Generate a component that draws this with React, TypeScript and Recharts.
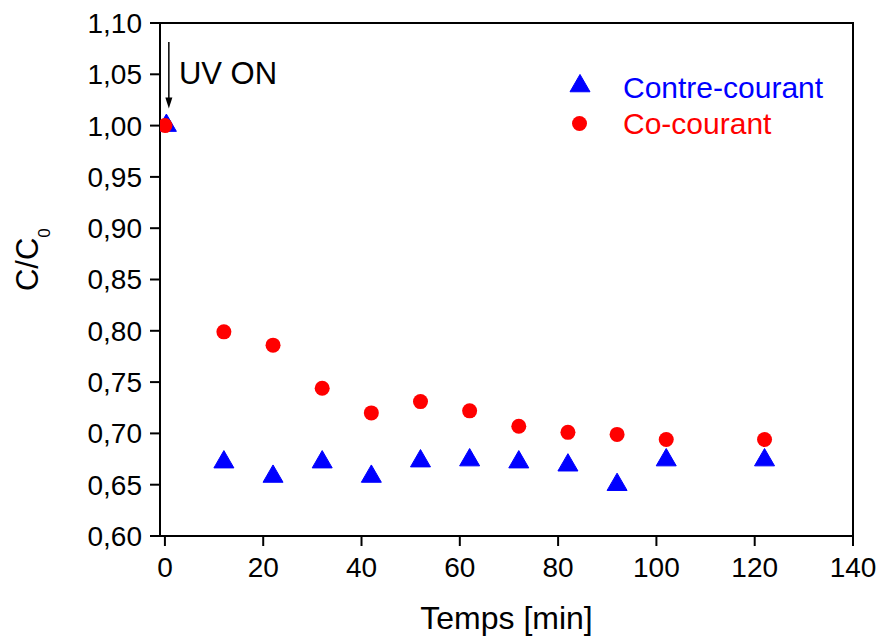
import React from 'react';
import {
  ScatterChart, Scatter, XAxis, YAxis, ReferenceArea, ReferenceLine, ReferenceDot, Label,
} from 'recharts';

const timeContre = [0.3, 12, 22, 32, 42, 52, 62, 72, 82, 92, 102, 122];
const contreValues = [1.0, 0.672, 0.658, 0.672, 0.658, 0.673, 0.674, 0.672, 0.669, 0.65, 0.674, 0.674];
const timeCo = [0, 12, 22, 32, 42, 52, 62, 72, 82, 92, 102, 122];
const coValues = [1.0, 0.799, 0.786, 0.744, 0.72, 0.731, 0.722, 0.707, 0.701, 0.699, 0.694, 0.694];
const xTicks = [0, 20, 40, 60, 80, 100, 120, 140];
const yTicks = [0.6, 0.65, 0.7, 0.75, 0.8, 0.85, 0.9, 0.95, 1.0, 1.05, 1.1];
const seriesNames = ['Contre-courant', 'Co-courant'];
const annotation = { text: 'UV ON', arrowX: 0.8, arrowTop: 1.0815, arrowTip: 1.0166, textX: 2.85, textY: 1.041 };

const BLUE = '#0000FF';
const RED = '#FF0000';
const FONT = '"Liberation Sans", Arial, Helvetica, sans-serif';

const contreData = timeContre.map((x, i) => ({ x, y: contreValues[i] }));
const coData = timeCo.map((x, i) => ({ x, y: coValues[i] }));

const triPoints = (cx: number, cy: number, side: number) => {
  const h = (side * Math.sqrt(3)) / 2;
  return `${cx},${cy - (2 * h) / 3} ${cx - side / 2},${cy + h / 3} ${cx + side / 2},${cy + h / 3}`;
};

const TriangleShape = (props: any) => {
  const { cx, cy } = props;
  if (cx == null || cy == null) return null;
  return <polygon points={triPoints(cx, cy, 20)} fill={BLUE} stroke={BLUE} strokeWidth={1} strokeLinejoin="round" />;
};

const CircleShape = (props: any) => {
  const { cx, cy } = props;
  if (cx == null || cy == null) return null;
  return <circle cx={cx} cy={cy} r={7.5} fill={RED} />;
};

const LegendGroup = () => (
  <g transform="translate(560,60)">
    <polygon points={triPoints(20, 26, 20)} fill={BLUE} stroke={BLUE} strokeWidth={1} strokeLinejoin="round" />
    <text x={63} y={38} fontSize={30} fontFamily={FONT} fill={BLUE}>{seriesNames[0]}</text>
    <circle cx={19.5} cy={63.5} r={7.5} fill={RED} />
    <text x={63} y={74} fontSize={30} fontFamily={FONT} fill={RED}>{seriesNames[1]}</text>
  </g>
);

const ArrowShape = (props: any) => {
  const { x1, y1, x2, y2 } = props;
  if (x1 == null) return null;
  return (
    <g>
      <line x1={x1} y1={y1} x2={x2} y2={y2 - 8} stroke="#000" strokeWidth={1.5} />
      <polygon points={`${x2},${y2} ${x2 - 3.5},${y2 - 11} ${x2 + 3.5},${y2 - 11}`} fill="#000" />
    </g>
  );
};

const TextShape = (props: any) => {
  const { cx, cy } = props;
  if (cx == null) return null;
  return <text x={cx} y={cy} fontSize={31} fontFamily={FONT} fill="#000">{annotation.text}</text>;
};

const tickStyle = { fontSize: 28, fill: '#000', fontFamily: FONT };
const axisLineStyle = { stroke: '#000', strokeWidth: 2 };

export default function App() {
  return (
    <div style={{ position: 'absolute', left: 0, top: 0, width: 880, height: 637, background: '#fff' }}>
      <ScatterChart width={880} height={637} margin={{ top: 23, right: 27, bottom: 0, left: 0 }}>
        <XAxis
          type="number"
          dataKey="x"
          domain={[-1, 140]}
          ticks={xTicks}
          allowDataOverflow
          height={101}
          tickSize={10}
          tickMargin={11}
          axisLine={axisLineStyle}
          tickLine={axisLineStyle}
          tick={tickStyle}
        >
          <Label
            content={(p: any) => {
              const vb = p.viewBox || {};
              return (
                <text x={vb.x + vb.width / 2} y={629} textAnchor="middle" fontSize={32} fontFamily={FONT} fill="#000">
                  Temps [min]
                </text>
              );
            }}
          />
        </XAxis>
        <YAxis
          type="number"
          dataKey="y"
          domain={[0.6, 1.1]}
          ticks={yTicks}
          allowDataOverflow
          width={160}
          tickSize={10}
          tickMargin={8}
          axisLine={axisLineStyle}
          tickLine={axisLineStyle}
          tick={tickStyle}
          tickFormatter={(v: number) => v.toFixed(2).replace('.', ',')}
        >
          <Label
            content={() => (
              <text transform="translate(38.3,259.7) rotate(-90)" textAnchor="middle" fontSize={31} fontFamily={FONT} fill="#000">
                C/C<tspan dy={12} fontSize={17}>0</tspan>
              </text>
            )}
          />
        </YAxis>
        <ReferenceArea x1={-1} x2={140} y1={0.6} y2={1.1} fill="none" stroke="#000" strokeWidth={2} fillOpacity={0} />
        <Scatter name={seriesNames[0]} data={contreData} shape={TriangleShape} isAnimationActive={false} />
        <Scatter name={seriesNames[1]} data={coData} shape={CircleShape} isAnimationActive={false} />
        <ReferenceLine
          segment={[{ x: annotation.arrowX, y: annotation.arrowTop }, { x: annotation.arrowX, y: annotation.arrowTip }]}
          shape={ArrowShape}
        />
        <ReferenceDot x={annotation.textX} y={annotation.textY} r={0} shape={TextShape} />
        <ReferenceDot x={140} y={1.1} r={0} shape={LegendGroup} />
      </ScatterChart>
    </div>
  );
}
